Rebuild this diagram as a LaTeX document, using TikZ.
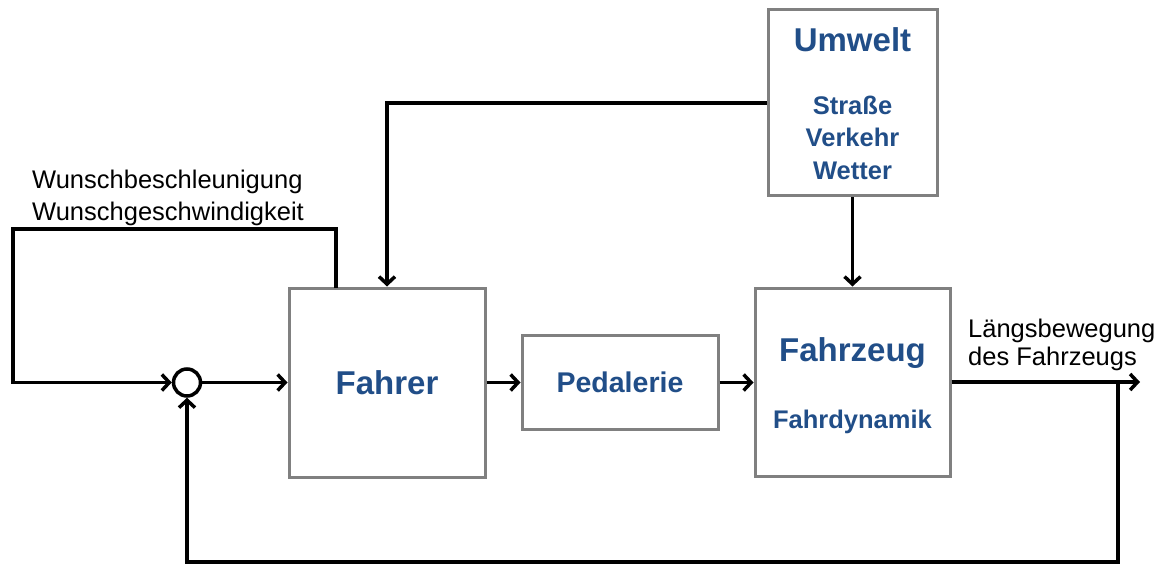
\documentclass[tikz,border=0pt]{standalone}
\usepackage{fontspec}
\setmainfont{Liberation Sans}
\usetikzlibrary{arrows.meta}
\definecolor{txtblue}{RGB}{33,78,136}
\definecolor{boxgray}{RGB}{128,128,128}
\begin{document}
\begin{tikzpicture}[x=1pt,y=-1pt,
  blockbox/.style={draw=boxgray, line width=3pt, inner sep=0pt, text=txtblue, font=\bfseries},
  sig/.style={line width=3.5pt, -{Straight Barb[length=7.5pt,width=16pt]}},
  lbl/.style={inner sep=0pt, anchor=base west, font=\fontsize{25.5}{30}\selectfont},
  btxt/.style={inner sep=0pt, anchor=base, text=txtblue, font=\fontsize{25.5}{30}\selectfont\bfseries},
  bigtxt/.style={inner sep=0pt, anchor=base, text=txtblue, font=\fontsize{33}{38}\selectfont\bfseries}]
\useasboundingbox (0,0) rectangle (1160,567);
% blocks
\node[blockbox, minimum width=196pt, minimum height=189pt, font=\fontsize{33}{38}\selectfont\bfseries] (fahrer) at (387,382.5) {Fahrer};
\node[blockbox, minimum width=196pt, minimum height=94pt, font=\fontsize{28.5}{32}\selectfont\bfseries] (pedal) at (620,382.5) {Pedalerie};
\node[blockbox, minimum width=195pt, minimum height=188pt] (fahrzeug) at (852.5,382) {};
\node[blockbox, minimum width=169pt, minimum height=186pt] (umwelt) at (852.5,103) {};
\node[draw, line width=3.5pt, circle, minimum size=27pt, inner sep=0pt] (sum) at (187,382.5) {};
% block texts
\node[bigtxt] (tfz) at (852.5,361) {Fahrzeug};
\node[btxt] (tfd) at (852.5,428) {Fahrdynamik};
\node[bigtxt] (tuw) at (852.5,52) {Umwelt};
\node[btxt] (tst) at (852.5,115) {Straße};
\node[btxt] (tvk) at (852.5,147) {Verkehr};
\node[btxt] (twt) at (852.5,180) {Wetter};
% labels
\node[lbl] (l1) at (32,189) {Wunschbeschleunigung};
\node[lbl] (l2) at (32,220) {Wunschgeschwindigkeit};
\node[lbl] (l3) at (968,337) {Längsbewegung};
\node[lbl] (l4) at (968,365) {des Fahrzeugs};
% coordinates
\coordinate (wtap) at (336,288);
\coordinate (wc1) at (13,229);
\coordinate (out) at (1140,382);
\coordinate (fb) at (1118,382);
\coordinate (fbc) at (1118,562);
% connectors
\draw[sig] (sum.east) -- (fahrer.west |- sum.east);
\draw[sig] (fahrer.east) -- (pedal.west);
\draw[sig] (pedal.east) -- (fahrzeug.west |- pedal.east);
\draw[sig] (wtap) |- (wc1) |- (sum.west);
\draw[sig] (umwelt.west) -| (fahrer.north);
\draw[sig] (umwelt.south) -- (fahrzeug.north);
\draw[sig] (fahrzeug.east) -- (out);
\draw[sig] (fb) -- (fbc) -| (sum.south);
\end{tikzpicture}
\end{document}
